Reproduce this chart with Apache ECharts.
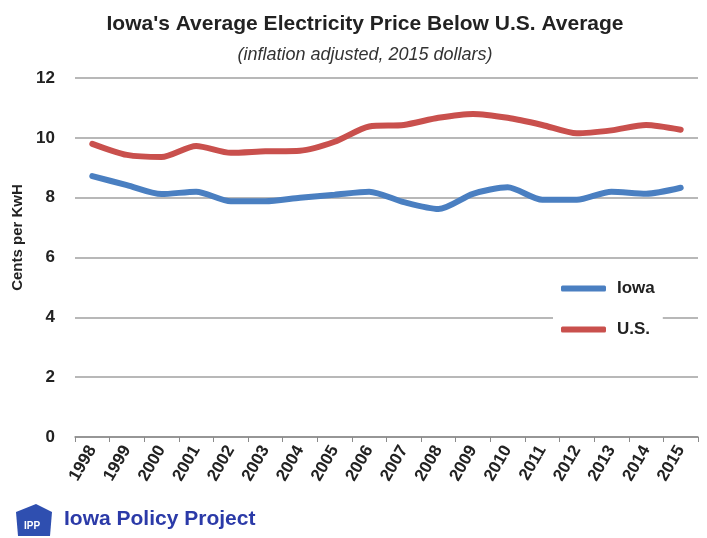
<!DOCTYPE html>
<html>
<head>
<meta charset="utf-8">
<script src="https://cdn.jsdelivr.net/npm/echarts@6/dist/echarts.min.js"></script>
<style>
  html, body { margin: 0; padding: 0; background: #fff; }
  #chart { width: 707px; height: 538px; }
</style>
</head>
<body>
<div id="chart"></div>
<script>
// years on the x axis
const years = ['1998', '1999', '2000', '2001', '2002', '2003', '2004', '2005', '2006',
  '2007', '2008', '2009', '2010', '2011', '2012', '2013', '2014', '2015']
// cents per kWh
const iowa = [8.72, 8.42, 8.12, 8.2, 7.88, 7.88, 8.0, 8.1, 8.2,
  7.85, 7.62, 8.13, 8.35, 7.93, 7.93, 8.2, 8.13, 8.33]
const us = [9.8, 9.43, 9.36, 9.73, 9.5, 9.55, 9.57, 9.87, 10.38,
  10.43, 10.67, 10.8, 10.67, 10.43, 10.15, 10.25, 10.43, 10.27]
const yTicks = [0, 2, 4, 6, 8, 10, 12]

const font = "'Liberation Sans Narrow', 'Liberation Sans', Arial, sans-serif"

const chart = echarts.init(document.getElementById('chart'))

chart.setOption({
  animation: false,
  backgroundColor: '#fff',
  title: {
    text: "Iowa's Average Electricity Price Below U.S. Average",
    subtext: '(inflation adjusted, 2015 dollars)',
    left: 360,
    textAlign: 'center',
    top: 9,
    itemGap: 11,
    textStyle: { fontFamily: font, fontWeight: 'bold', fontSize: 21, color: '#222' },
    subtextStyle: { fontFamily: font, fontStyle: 'italic', fontSize: 18, color: '#333' }
  },
  legend: {
    orient: 'vertical',
    left: 553,
    top: 276,
    itemWidth: 45,
    itemHeight: 6,
    itemGap: 24,
    padding: [4, 8, 4, 8],
    backgroundColor: '#fff',
    icon: 'roundRect',
    textStyle: { fontFamily: font, fontWeight: 'bold', fontSize: 17, color: '#222', padding: [0, 0, 0, 6] },
    data: ['Iowa', 'U.S.']
  },
  grid: { left: 75, right: 9, top: 78, bottom: 101 },
  xAxis: {
    type: 'category',
    data: years,
    boundaryGap: true,
    axisLine: { lineStyle: { color: '#8a8a8a', width: 1.5 } },
    axisTick: { show: true, length: 5, lineStyle: { color: '#8a8a8a' } },
    axisLabel: {
      interval: 0, rotate: 60, margin: 10,
      fontFamily: font, fontWeight: 'bold', fontSize: 17, color: '#222'
    }
  },
  yAxis: {
    type: 'value',
    min: yTicks[0],
    max: yTicks[yTicks.length - 1],
    interval: 2,
    name: 'Cents per KwH',
    nameLocation: 'middle',
    nameGap: 45,
    nameRotate: 90,
    nameTextStyle: { fontFamily: font, fontWeight: 'bold', fontSize: 15, color: '#222', padding: [0, 0, 0, 40] },
    axisLine: { show: false },
    axisTick: { show: false },
    axisLabel: { margin: 20, fontFamily: font, fontWeight: 'bold', fontSize: 17, color: '#222' },
    splitLine: { lineStyle: { color: '#a0a0a0', width: 1.5 } }
  },
  series: [
    {
      name: 'Iowa',
      type: 'line',
      data: iowa,
      smooth: 0.25,
      symbol: 'none',
      color: '#4a7fc1',
      lineStyle: { width: 6, cap: 'round' }
    },
    {
      name: 'U.S.',
      type: 'line',
      data: us,
      smooth: 0.25,
      symbol: 'none',
      color: '#c9504d',
      lineStyle: { width: 6, cap: 'round' }
    }
  ],
  graphic: [
    {
      type: 'polygon',
      shape: { points: [[16, 512], [36, 504], [52, 512], [50, 536], [18, 536]] },
      style: { fill: '#2f4fb0' }
    },
    {
      type: 'text',
      left: 24, top: 521,
      style: { text: 'IPP', fill: '#fff', font: 'bold 10px ' + font }
    },
    {
      type: 'text',
      left: 64, top: 509,
      style: { text: 'Iowa Policy Project', fill: '#2b3aa8', font: 'bold 21px ' + font }
    }
  ]
})
</script>
</body>
</html>
